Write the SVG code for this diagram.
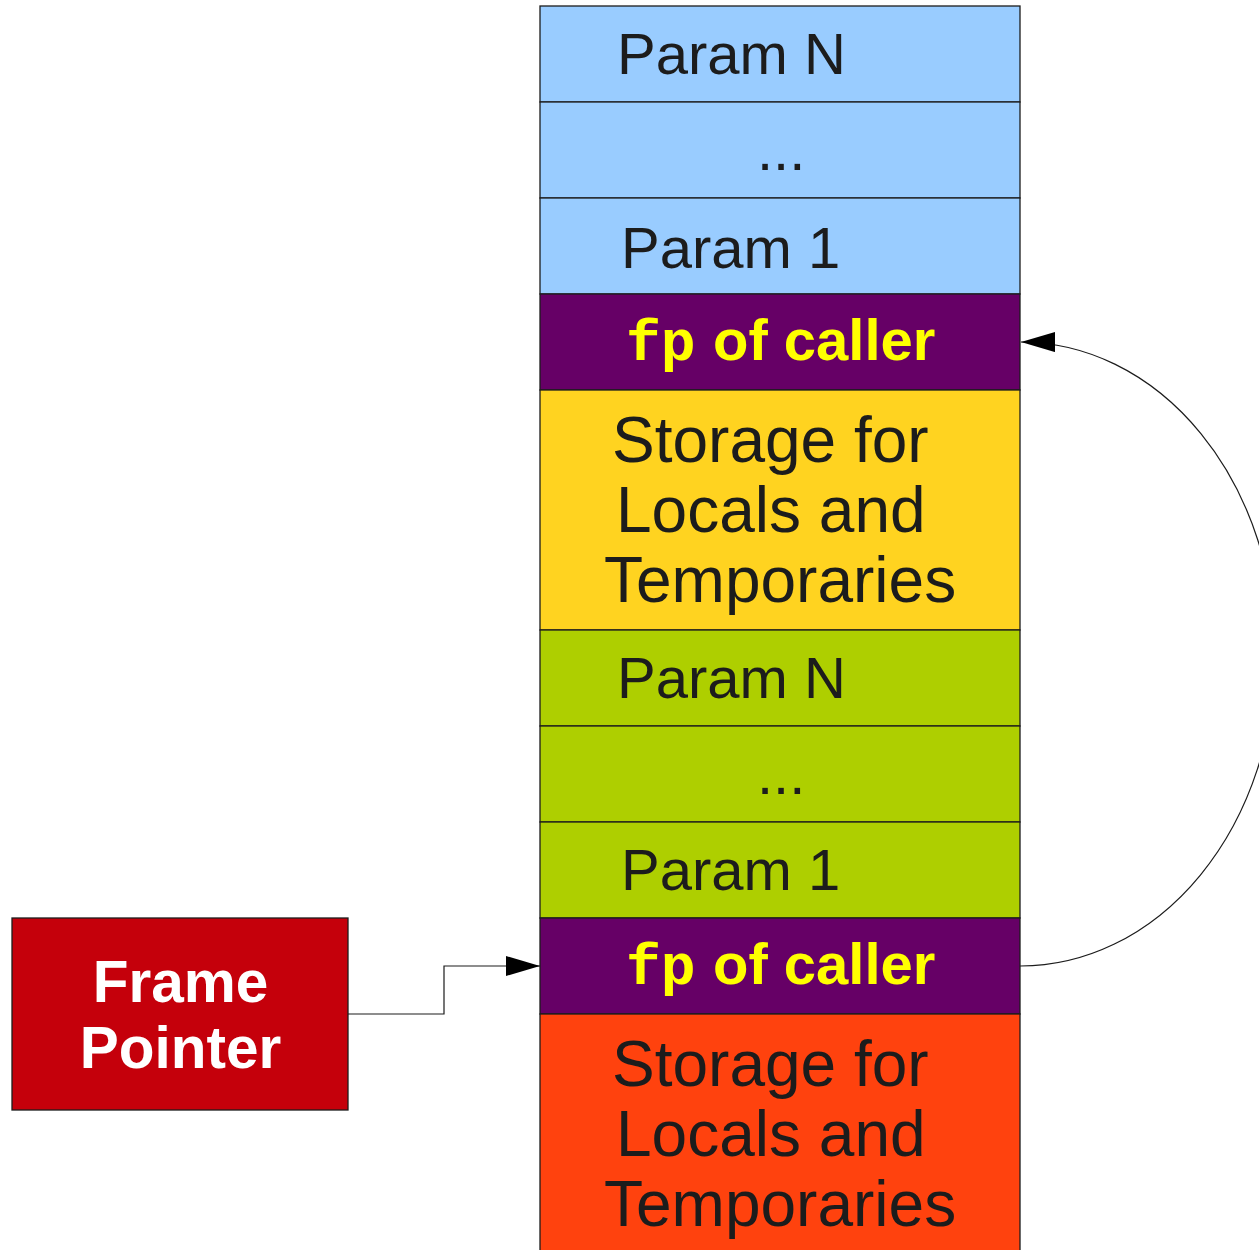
<svg xmlns="http://www.w3.org/2000/svg" width="1259" height="1250" viewBox="0 0 1259 1250">
<defs>
<style>
.cell{stroke:#1c1c1c;stroke-width:1.3}
.t{font-family:"Liberation Sans",Arial,sans-serif;fill:#1c1c1c}
.p{font-size:58px}
.s{font-size:64px}
.fp{font-family:"Liberation Sans",Arial,sans-serif;font-weight:bold;font-size:58px;fill:#ffff00}
.mono{font-family:"Liberation Mono","Courier New",monospace}
.fr{font-family:"Liberation Sans",Arial,sans-serif;font-weight:bold;font-size:58.5px;fill:#ffffff;text-anchor:middle}
.conn{fill:none;stroke:#1c1c1c;stroke-width:1.2}
</style>
<marker id="ah" viewBox="0 0 34 20" refX="34" refY="10" markerWidth="34" markerHeight="20" markerUnits="userSpaceOnUse" orient="auto">
<path d="M0,0 L34,10 L0,20 Z" fill="#000"/>
</marker>
</defs>
<rect width="1259" height="1250" fill="#fff"/>
<g id="top-param-n"><rect class="cell" x="540" y="6" width="480" height="96" fill="#99ccff"/><text class="t p" x="617" y="74">Param N</text></g>
<g id="top-dots"><rect class="cell" x="540" y="102" width="480" height="96" fill="#99ccff"/><text class="t p" x="757" y="170">...</text></g>
<g id="top-param-1"><rect class="cell" x="540" y="198" width="480" height="96" fill="#99ccff"/><text class="t p" x="621" y="268">Param 1</text></g>
<g id="top-fp"><rect class="cell" x="540" y="294" width="480" height="96" fill="#660066"/><text class="fp" x="626" y="360"><tspan class="mono">fp</tspan><tspan x="713">of caller</tspan></text></g>
<g id="top-storage"><rect class="cell" x="540" y="390" width="480" height="240" fill="#ffd320"/><text class="t s" x="612" y="462">Storage for</text><text class="t s" x="616" y="532">Locals and</text><text class="t s" x="604" y="602">Temporaries</text></g>
<g id="bot-param-n"><rect class="cell" x="540" y="630" width="480" height="96" fill="#aecf00"/><text class="t p" x="617" y="698">Param N</text></g>
<g id="bot-dots"><rect class="cell" x="540" y="726" width="480" height="96" fill="#aecf00"/><text class="t p" x="757" y="794">...</text></g>
<g id="bot-param-1"><rect class="cell" x="540" y="822" width="480" height="96" fill="#aecf00"/><text class="t p" x="621" y="890">Param 1</text></g>
<g id="bot-fp"><rect class="cell" x="540" y="918" width="480" height="96" fill="#660066"/><text class="fp" x="626" y="984"><tspan class="mono">fp</tspan><tspan x="713">of caller</tspan></text></g>
<g id="bot-storage"><rect class="cell" x="540" y="1014" width="480" height="250" fill="#ff420e"/><text class="t s" x="612" y="1086">Storage for</text><text class="t s" x="616" y="1156">Locals and</text><text class="t s" x="604" y="1226">Temporaries</text></g>
<g id="frame-pointer"><rect class="cell" x="12" y="918" width="336" height="192" fill="#c5000b"/><text class="fr" x="180.5" y="1002">Frame</text><text class="fr" x="180.5" y="1068">Pointer</text></g>
<g id="connectors">
<path class="conn" d="M348,1014 H444 V966 H540" marker-end="url(#ah)"/>
<path class="conn" d="M1020,966 A255,312 0 0 0 1021,342" marker-end="url(#ah)"/>
</g>
</svg>
